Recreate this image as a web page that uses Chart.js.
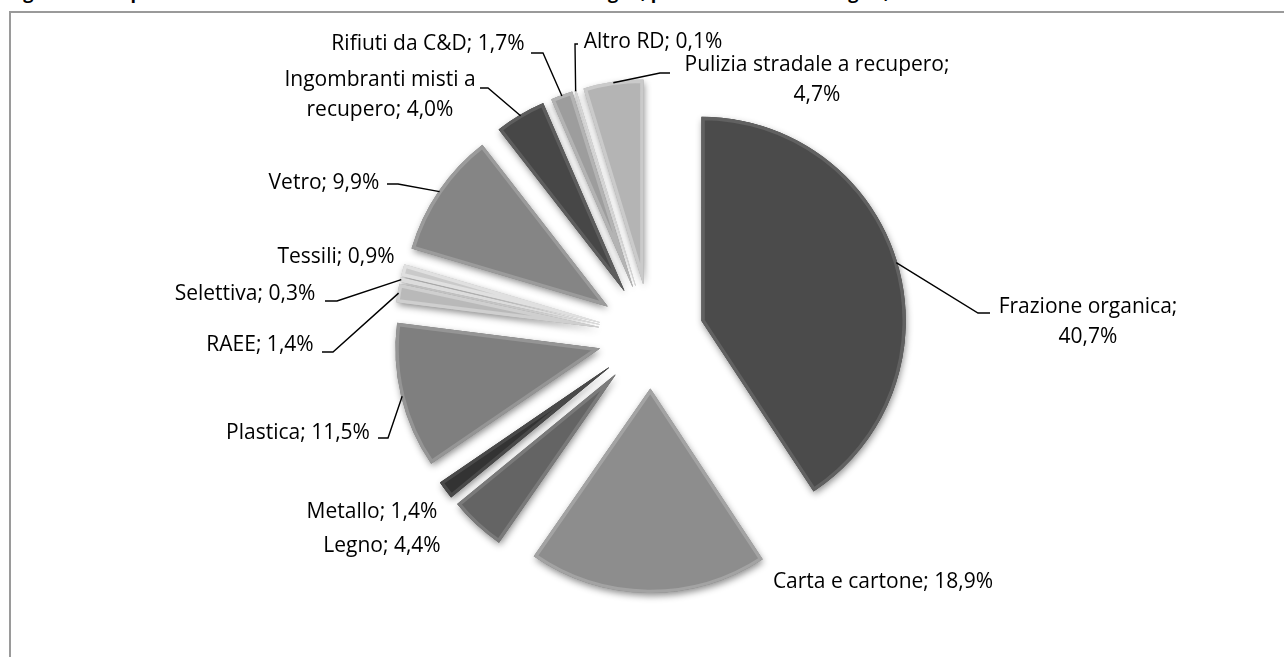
<!DOCTYPE html>
<html>
<head>
<meta charset="utf-8">
<script src="https://cdn.jsdelivr.net/npm/chart.js@4.4.1/dist/chart.umd.min.js"></script>
<style>
  body { margin: 0; background: #fff; overflow: hidden; width: 1284px; height: 657px; position: relative; }
  #title { position: absolute; left: 8px; top: -18px; font: bold 18px "Open Sans"; line-height: 20px; white-space: nowrap; color: #000; }
  #frame { position: absolute; left: 9px; top: 11px; width: 1400px; height: 800px; border: 2px solid #9a9a9a; }
  canvas { position: absolute; left: 0; top: 0; }
</style>
</head>
<body>
<div id="title">Figura 4.2 – Ripartizione della raccolta differenziata in Emilia-Romagna, per frazione merceologica, 2011</div>
<div id="frame"></div>
<canvas id="chart" width="1284" height="657"></canvas>
<script>
// Data
const categories = [
  "Frazione organica", "Carta e cartone", "Legno", "Metallo", "Plastica",
  "RAEE", "Selettiva", "Tessili", "Vetro", "Ingombranti misti a recupero",
  "Rifiuti da C&D", "Altro RD", "Pulizia stradale a recupero",
];
const shares = [40.7, 18.9, 4.4, 1.4, 11.5, 1.4, 0.3, 0.9, 9.9, 4.0, 1.7, 0.1, 4.7];

// Styles
const sliceColors = [
  "#4b4b4b", "#8d8d8d", "#646464", "#333333", "#7f7f7f",
  "#b9b9b9", "#c6c6c6", "#cacaca", "#858585", "#474747",
  "#9d9d9d", "#c0c0c0", "#b4b4b4",
];
const rimColors = sliceColors.map((c) => lighten(c, 22));

// label text centre, words on first line, leader elbow and end of the short stub
const labelLayout = [
  { x: 1088, y: 307, wrap: 2, elbow: [978, 313], end: 990 },
  { x: 883, y: 582 },
  { x: 382, y: 546 },
  { x: 372, y: 512 },
  { x: 298, y: 433, elbow: [388, 438], end: 378 },
  { x: 260, y: 345, elbow: [333, 352], end: 322 },
  { x: 245, y: 294, elbow: [337, 301], end: 325 },
  { x: 336, y: 257 },
  { x: 324, y: 183, elbow: [398, 184], end: 387 },
  { x: 380, y: 80, wrap: 3, elbow: [488, 88], end: 480 },
  { x: 428, y: 44, elbow: [543, 53], end: 531 },
  { x: 653, y: 42, elbow: [575, 44], end: 578 },
  { x: 817, y: 65, wrap: 4, elbow: [660, 73], end: 670 },
];
const explode = 53;
const lineHeight = 30;

function lighten(hex, amount) {
  const v = parseInt(hex.slice(1, 3), 16);
  const n = Math.min(255, v + amount).toString(16).padStart(2, "0");
  return "#" + n + n + n;
}

function formatShare(v) {
  return v.toFixed(1).replace(".", ",") + "%";
}

// Draw every slice pushed out along its bisector, with a soft shadow underneath
const explodedPie = {
  id: "explodedPie",
  beforeDatasetDraw(chart, args) {
    const ctx = chart.ctx;
    const arcs = args.meta.data;
    for (const pass of [0, 1]) {
      for (const arc of arcs) {
        const mid = (arc.startAngle + arc.endAngle) / 2;
        ctx.save();
        if (pass === 0) {
          ctx.shadowColor = "rgba(0,0,0,0.45)";
          ctx.shadowBlur = 7;
          ctx.shadowOffsetX = 1;
          ctx.shadowOffsetY = 3;
        }
        ctx.translate(Math.cos(mid) * explode, Math.sin(mid) * explode);
        arc.draw(ctx);
        ctx.restore();
      }
    }
    return false;
  },
  afterDraw(chart) {
    const ctx = chart.ctx;
    const arcs = chart.getDatasetMeta(0).data;
    ctx.save();
    ctx.font = '21px "Open Sans"';
    ctx.fillStyle = "#000";
    ctx.strokeStyle = "#000";
    ctx.lineWidth = 1.4;
    ctx.textAlign = "center";
    ctx.textBaseline = "middle";
    arcs.forEach((arc, i) => {
      const lay = labelLayout[i];
      const words = (categories[i] + "; " + formatShare(shares[i])).split(" ");
      const lines = lay.wrap
        ? [words.slice(0, lay.wrap).join(" "), words.slice(lay.wrap).join(" ")]
        : [words.join(" ")];
      lines.forEach((line, k) => ctx.fillText(line, lay.x, lay.y + k * lineHeight));
      if (lay.elbow) {
        const mid = (arc.startAngle + arc.endAngle) / 2;
        const r = arc.outerRadius + explode - 1;
        ctx.beginPath();
        ctx.moveTo(arc.x + Math.cos(mid) * r, arc.y + Math.sin(mid) * r);
        ctx.lineTo(lay.elbow[0], lay.elbow[1]);
        ctx.lineTo(lay.end, lay.elbow[1]);
        ctx.stroke();
      }
    });
    ctx.restore();
  },
};

new Chart(document.getElementById("chart"), {
  type: "pie",
  data: {
    labels: categories,
    datasets: [{
      data: shares,
      backgroundColor: sliceColors,
      borderColor: rimColors,
      borderWidth: 3,
      borderAlign: "inner",
      hoverOffset: 0,
    }],
  },
  options: {
    responsive: false,
    animation: false,
    events: [],
    radius: 204,
    layout: { padding: { left: 18, top: 15, right: 0, bottom: 0 } },
    plugins: { legend: { display: false }, tooltip: { enabled: false } },
  },
  plugins: [explodedPie],
});
</script>
</body>
</html>
